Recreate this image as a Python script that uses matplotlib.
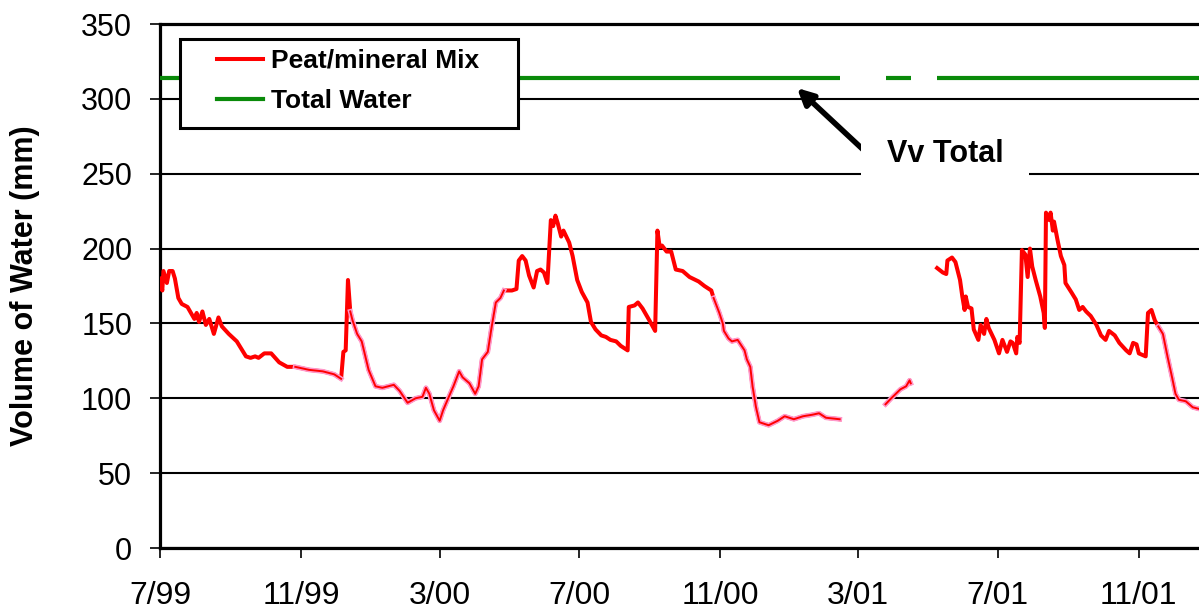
import numpy as np
import pandas as pd
import matplotlib
matplotlib.use("Agg")
import matplotlib.pyplot as plt
from matplotlib.lines import Line2D
from matplotlib.patches import Rectangle

plt.rcParams['font.family'] = ['Liberation Sans', 'DejaVu Sans']

# ------------------------------------------
# Water storage in the peat/mineral mix (mm), NaN = logger gap
# ------------------------------------------
dates = [
    "1999-07-01", "1999-07-03", "1999-07-04", "1999-07-07", "1999-07-09", "1999-07-12",
    "1999-07-14", "1999-07-17", "1999-07-20", "1999-07-25", "1999-07-31", "1999-08-02",
    "1999-08-04", "1999-08-07", "1999-08-10", "1999-08-13", "1999-08-17", "1999-08-21",
    "1999-08-24", "1999-08-30", "1999-09-06", "1999-09-14", "1999-09-18", "1999-09-22",
    "1999-09-25", "1999-09-30", "1999-10-06", "1999-10-13", "1999-10-20", "1999-10-27",
    "1999-11-08", "1999-11-20", "1999-11-30", "1999-12-06", "1999-12-08", "1999-12-10",
    "1999-12-12", "1999-12-14", "1999-12-16", "1999-12-20", "1999-12-24", "1999-12-30",
    "2000-01-05", "2000-01-11", "2000-01-21", "2000-01-26", "2000-02-02", "2000-02-09",
    "2000-02-15", "2000-02-18", "2000-02-21", "2000-02-25", "2000-03-01", "2000-03-04",
    "2000-03-09", "2000-03-13", "2000-03-18", "2000-03-21", "2000-03-27", "2000-04-01",
    "2000-04-04", "2000-04-07", "2000-04-12", "2000-04-15", "2000-04-17", "2000-04-19",
    "2000-04-23", "2000-04-26", "2000-05-03", "2000-05-07", "2000-05-09", "2000-05-12",
    "2000-05-15", "2000-05-18", "2000-05-22", "2000-05-25", "2000-05-28", "2000-05-31",
    "2000-06-03", "2000-06-06", "2000-06-08", "2000-06-10", "2000-06-12", "2000-06-15",
    "2000-06-17", "2000-06-22", "2000-06-25", "2000-06-29", "2000-07-03", "2000-07-08",
    "2000-07-11", "2000-07-15", "2000-07-20", "2000-07-24", "2000-07-28", "2000-08-02",
    "2000-08-06", "2000-08-12", "2000-08-13", "2000-08-18", "2000-08-21", "2000-08-25",
    "2000-08-31", "2000-09-05", "2000-09-07", "2000-09-09", "2000-09-11", "2000-09-15",
    "2000-09-19", "2000-09-23", "2000-09-29", "2000-10-05", "2000-10-13", "2000-10-18",
    "2000-10-24", "2000-10-26", "2000-10-31", "2000-11-03", "2000-11-04", "2000-11-08",
    "2000-11-11", "2000-11-16", "2000-11-22", "2000-11-24", "2000-11-27", "2000-11-29",
    "2000-12-02", "2000-12-05", "2000-12-13", "2000-12-21", "2000-12-27", "2001-01-04",
    "2001-01-12", "2001-01-20", "2001-01-26", "2001-02-01", "2001-02-13", "2001-02-14",
    "2001-03-25", "2001-03-30", "2001-04-03", "2001-04-07", "2001-04-12", "2001-04-15",
    "2001-04-16", "2001-04-17",
    "2001-05-09", "2001-05-14", "2001-05-17", "2001-05-18", "2001-05-22", "2001-05-25",
    "2001-05-29", "2001-05-31", "2001-06-02", "2001-06-03", "2001-06-05", "2001-06-08",
    "2001-06-10", "2001-06-14", "2001-06-16", "2001-06-19", "2001-06-21", "2001-06-23",
    "2001-06-28", "2001-07-02", "2001-07-05", "2001-07-09", "2001-07-12", "2001-07-14",
    "2001-07-17", "2001-07-18", "2001-07-20", "2001-07-22", "2001-07-25", "2001-07-27",
    "2001-07-29", "2001-07-31", "2001-08-03", "2001-08-07", "2001-08-10", "2001-08-11",
    "2001-08-12", "2001-08-15", "2001-08-16", "2001-08-18", "2001-08-19", "2001-08-22",
    "2001-08-25", "2001-08-28", "2001-08-29", "2001-09-03", "2001-09-07", "2001-09-10",
    "2001-09-13", "2001-09-16", "2001-09-20", "2001-09-25", "2001-09-29", "2001-10-03",
    "2001-10-06", "2001-10-11", "2001-10-15", "2001-10-21", "2001-10-24", "2001-10-27",
    "2001-10-30", "2001-11-01", "2001-11-07", "2001-11-09", "2001-11-12", "2001-11-15",
    "2001-11-18", "2001-11-22", "2001-11-26", "2001-11-30", "2001-12-03", "2001-12-06",
    "2001-12-12", "2001-12-18", "2001-12-23", "2001-12-31",
]

peat_mix = [
    180, 172, 185, 177, 185, 185,
    180, 167, 163, 161, 153, 157,
    151, 158, 149, 153, 143, 154,
    148, 143, 138, 128, 127, 128,
    127, 130, 130, 124, 121, 121,
    119, 118, 116, 113, 131, 132,
    179, 158, 152, 143, 138, 119,
    108, 107, 109, 105, 97, 100,
    101, 107, 103, 92, 85, 92,
    101, 108, 118, 114, 110, 103,
    108, 126, 131, 146, 155, 164,
    167, 172, 172, 173, 192, 195,
    192, 182, 174, 185, 186, 184,
    177, 219, 215, 222, 217, 208,
    212, 204, 195, 179, 171, 164,
    151, 146, 142, 141, 139, 138,
    135, 132, 161, 162, 164, 160,
    152, 145, 212, 201, 202, 198,
    198, 186, 185, 181, 178, 175,
    172, 167, 157, 150, 145, 140,
    138, 139, 132, 126, 121, 108,
    94, 84, 82, 85, 88, 86,
    88, 89, 90, 87, 86, np.nan,
    96, 100, 103, 106, 108, 112,
    110, np.nan,
    187, 184, 183, 192, 194, 191,
    179, 168, 159, 168, 161, 160,
    146, 139, 149, 143, 153, 147,
    139, 130, 139, 131, 138, 137,
    130, 141, 137, 199, 196, 181,
    200, 188, 179, 168, 157, 147,
    224, 219, 224, 212, 218, 206,
    195, 189, 177, 171, 166, 159,
    161, 158, 155, 149, 142, 139,
    145, 142, 137, 132, 130, 137,
    136, 130, 128, 157, 159, 152,
    148, 143, 128, 114, 103, 99,
    98, 94, 93, 92,
]

total_water = 314

# stretches of the record drawn with the pink trace
pink_periods = [
    ("1999-10-27", "1999-12-06"),
    ("1999-12-14", "2000-04-26"),
    ("2000-10-26", "2001-02-13"),
    ("2001-03-25", "2001-04-16"),
    ("2001-11-18", "2001-12-31"),
]

tick_dates = ["1999-07-01", "1999-11-01", "2000-03-01", "2000-07-01",
              "2000-11-01", "2001-03-01", "2001-07-01", "2001-11-01"]
tick_labels = ["7/99", "11/99", "3/00", "7/00", "11/00", "3/01", "7/01", "11/01"]

df = pd.DataFrame({"date": pd.to_datetime(dates), "vol": peat_mix})
df["total"] = np.where(df["vol"].isna(), np.nan, total_water)

pink_mask = np.zeros(len(df), dtype=bool)
for start, end in pink_periods:
    pink_mask |= (df["date"] >= start) & (df["date"] <= end)
pink_vol = df["vol"].where(pink_mask)

# ------------------------------------------
# Plot
# ------------------------------------------
fig = plt.figure(figsize=(11.99, 6.13), dpi=100)
ax = fig.add_axes([160 / 1199, 65 / 613, 1 - 160 / 1199, 524 / 613])

red = "#ff0000"
green = "#0a8a0a"
pink = "#ff99cc"

ax.plot(df["date"], df["total"], color=green, lw=3.0, zorder=3, solid_capstyle="butt")
ax.plot(df["date"], df["vol"], color=red, lw=2.9, zorder=3)
ax.plot(df["date"], pink_vol, color=pink, lw=3.5, zorder=4)
ax.plot(df["date"], pink_vol, color=red, lw=1.4, zorder=5)

ax.set_ylim(0, 350)
ax.set_yticks(range(0, 351, 50))
ax.set_xlim(pd.Timestamp("1999-07-01"), pd.Timestamp("2001-12-23 12:00"))
ax.set_xticks(pd.to_datetime(tick_dates))
ax.set_xticklabels(tick_labels)

ax.grid(axis="y", color="black", lw=1.5)
ax.set_axisbelow(True)
for side in ["left", "bottom", "top"]:
    ax.spines[side].set_linewidth(2.3)
ax.spines["right"].set_visible(False)

ax.tick_params(axis="y", direction="out", length=7, width=1.2, labelsize=22, pad=13)
ax.tick_params(axis="x", direction="out", length=7, width=1.2, labelsize=23, pad=17)

fig.text(25 / 1199, 1 - 286 / 613, "Volume of Water (mm)", rotation=90,
         ha="center", va="center", fontsize=22, fontweight="bold")

# legend box
ax.add_patch(Rectangle((20 / 1039, 1 - 104 / 524), 338 / 1039, 89 / 524,
                       transform=ax.transAxes, facecolor="white", edgecolor="black",
                       lw=2.2, zorder=6))
handles = [Line2D([], [], color=red, lw=2.9), Line2D([], [], color=green, lw=3.0)]
leg = ax.legend(handles, ["Peat/mineral Mix", "Total Water"], loc="upper left",
                bbox_to_anchor=(57 / 1039, 1 - 25 / 524), frameon=False,
                borderpad=0, borderaxespad=0, handlelength=1.75, handletextpad=0.3,
                labelspacing=0.62, prop={"weight": "bold", "size": 19})
leg.set_zorder(7)

# arrow pointing at the total water line
ax.annotate("", xy=(637 / 1039, 460 / 524), xytext=(725 / 1039, 378 / 524),
            xycoords="axes fraction", textcoords="axes fraction",
            arrowprops=dict(arrowstyle="-|>", color="black", lw=4, mutation_scale=24,
                            shrinkA=0, shrinkB=0),
            zorder=6)
ax.text(785 / 1039, 394 / 524, "Vv Total", transform=ax.transAxes,
        ha="center", va="center", fontsize=22, fontweight="bold", zorder=7,
        bbox=dict(boxstyle="square,pad=0.85", facecolor="white", edgecolor="none"))

fig.savefig("out.png", dpi=100)
